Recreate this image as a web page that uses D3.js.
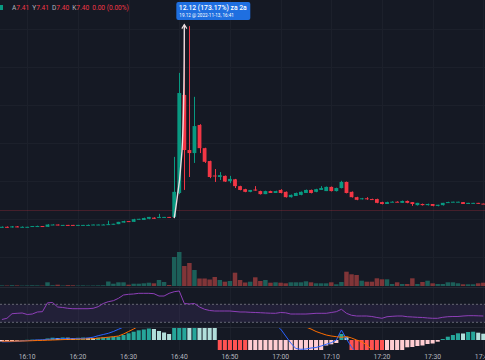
<!DOCTYPE html>
<html><head><meta charset="utf-8">
<script src="https://cdn.jsdelivr.net/npm/d3@7"></script>
<style>
html,body{margin:0;padding:0;background:#151924;overflow:hidden;}
svg{display:block;}
text{font-family:Roboto,"DejaVu Sans",sans-serif;}
</style></head><body>
<svg id="c" width="485" height="360"></svg>
<script>
// ---------- DATA ----------
const startTime = "2022-11-13T16:05";
const opens  = [6.79,6.80,6.79,6.81,6.79,6.79,6.80,6.81,6.82,6.80, 6.85,6.86,6.84,6.85,6.85,6.84,6.84,6.84,6.85,6.85, 6.85,6.85,6.87,6.87,6.91,6.95,6.93,7.00,6.98,7.01, 7.04,7.03,7.05,7.06,7.06,7.69,10.27,8.82,8.74,9.48, 8.87,8.53,8.15,8.11,8.14,8.00,8.05,7.87,7.79,7.72, 7.78,7.74,7.66,7.74,7.69,7.77,7.72,7.58,7.61,7.64, 7.69,7.77,7.72,7.77,7.74,7.85,7.74,7.82,7.98,7.72, 7.58,7.53,7.55,7.53,7.53,7.45,7.40,7.45,7.46,7.43, 7.48,7.45,7.37,7.40,7.37,7.40,7.35,7.37,7.43,7.45, 7.45,7.45,7.40,7.42,7.43,7.41];
const highs  = [6.81,6.81,6.82,6.82,6.81,6.80,6.82,6.83,6.82,6.87, 6.87,6.86,6.85,6.85,6.85,6.85,6.85,6.86,6.86,6.86, 6.87,6.96,6.88,6.93,6.96,6.95,7.01,7.01,7.04,7.06, 7.05,7.14,7.06,7.06,8.64,10.85,12.12,12.08,10.22,9.50, 8.88,8.54,8.32,8.24,8.15,8.14,8.06,7.88,7.80,7.77, 7.87,7.75,7.75,7.75,7.75,7.79,7.73,7.65,7.70,7.73, 7.78,7.78,7.80,7.87,7.86,7.86,7.83,8.01,7.99,7.73, 7.59,7.56,7.58,7.54,7.54,7.46,7.46,7.47,7.47,7.49, 7.49,7.45,7.43,7.41,7.41,7.40,7.38,7.43,7.46,7.46, 7.46,7.45,7.43,7.43,7.43,7.41];
const lows   = [6.78,6.78,6.78,6.79,6.79,6.79,6.80,6.81,6.80,6.80, 6.85,6.84,6.84,6.84,6.84,6.84,6.84,6.84,6.85,6.85, 6.85,6.85,6.86,6.87,6.91,6.93,6.93,6.99,6.98,7.00, 7.01,7.03,7.05,7.04,7.03,7.66,7.77,8.11,8.48,8.74, 8.48,8.08,7.98,8.03,7.98,7.95,7.82,7.76,7.71,7.71, 7.75,7.65,7.66,7.69,7.69,7.68,7.57,7.57,7.61,7.63, 7.69,7.68,7.71,7.77,7.74,7.73,7.73,7.81,7.68,7.57, 7.50,7.52,7.51,7.51,7.42,7.39,7.40,7.45,7.45,7.43, 7.42,7.35,7.36,7.36,7.36,7.34,7.34,7.36,7.43,7.45, 7.45,7.40,7.40,7.42,7.41,7.40];
const closes = [6.80,6.79,6.81,6.79,6.80,6.80,6.82,6.82,6.81,6.86, 6.86,6.84,6.85,6.84,6.84,6.85,6.85,6.85,6.86,6.86, 6.86,6.87,6.88,6.93,6.95,6.94,7.00,7.01,7.03,7.06, 7.01,7.06,7.06,7.05,7.72,10.32,8.82,8.74,9.45,8.87, 8.51,8.11,8.13,8.16,7.99,8.06,7.87,7.77,7.72,7.77, 7.76,7.66,7.74,7.69,7.74,7.69,7.58,7.64,7.69,7.72, 7.77,7.69,7.79,7.82,7.85,7.74,7.82,7.98,7.69,7.58, 7.51,7.55,7.53,7.52,7.43,7.40,7.45,7.46,7.45,7.48, 7.43,7.40,7.43,7.37,7.40,7.35,7.38,7.43,7.45,7.46, 7.46,7.40,7.43,7.43,7.42,7.40];
const volumes = [600,500,800,600,400,500,700,600,400,3700, 800,1300,500,900,700,500,600,400,500,600, 700,4500,2300,3700,3700,1300,2300,2300,2700,3300, 2700,6000,4000,1000,29000,34000,20000,23000,16000,7500, 7500,6500,9000,6000,4300,5000,13300,6000,3500,4300, 8700,5000,6000,3300,3700,3300,2700,3700,3700,3700, 4700,3700,2700,2700,2700,3700,1700,4000,14300,11700, 11000,5300,4300,4300,7700,6700,6700,2000,3700,2000, 2000,7700,2000,4000,5300,2700,2000,2000,3700,3700, 2700,1700,1700,1700,2700,3300];
const rsiValues = [36.2,38.9,49.1,50,50.7,47.3,48.4,52.9,53.6,73.3, 74,64,62.9,61.1,60.2,60.2,60.2,60.2,61.1,64.7, 71.8,75.8,78,83.3,90.7,92.2,92.9,94.4,94.4,94.4, 93.6,88.4,88.4,94.4,98,99.6,71.8,70.7,71.8,64, 58.9,56.2,55.1,55.1,55.1,55.1,54,52.9,52.9,52.2, 51.8,51.3,50.7,50.2,50,51.8,51.1,48.4,48.4,48.4, 48.4,49.1,50,50,50,51.8,53.6,58.9,50,45.6, 44,44,44,42.9,40.7,38.9,42.4,43.3,44,44, 42.4,41.8,41.1,40.7,39.6,38.9,38.9,41.1,42.4,42.9, 42.9,44,44.7,44.7,44.4,44];
const histValues = [-1.5,-1.2,-1.0,-0.7,-0.4,0.2,0.3,0.2,0.4,1.5, 2.3,2.0,2.5,2.3,2.0,2.2,2.4,2.1,2.0,2.3, 2.6,2.8,3.2,3.5,5,6.7,8.3,9.7,10.5,11.5, 11,9,7.5,6,20,40,45,43,44,38, 30,22,13,-12,-18,-22,-26,-28,-30,-28, -27,-26,-25,-24,-23,-22,-21,-20,-19,-18, -17,-16,-15,-13,-5.5,-4.3,-3,6,2.7,-10, -14,-17,-19,-20,-21,-22,-19,-16,-13,-10, -7.3,-7,-6,-5.5,-4,-3.5,-1.7,1,3.3,5, 6.7,6.5,8,8.3,7.3,6.3];
const macdValues = [-1.8,-1.8,-1.6,-1.4,-1.0,-0.6,-0.3,0,0.2,0.6, 1.0,1.2,1.3,1.3,1.4,1.5,1.6,2.0,2.8,4.3, 5.5,6.7,8.5,10.7,13,16,19,22,25,27, 28,28,28,29,40,70,85,92,98,98, 95,90,85,78,70,63,55,48,42,36, 31,26,22,18,15,11,4,-3,-8.5,-9.3, -9,-8,-7.5,-6,-4.3,-2.7,0,10,1,-7, -13,-16,-19,-21,-23,-25,-25,-25,-24,-23, -22,-21,-20,-19,-18,-17,-16,-15,-14,-13.5, -13,-12.5,-12,-11.8,-11.5,-11.3];
const signalValues = [-1.2,-1.2,-1.2,-1.1,-1.0,-0.9,-0.7,-0.5,-0.4,-0.2, 0,0.2,0.4,0.6,0.7,0.8,0.9,1.0,1.3,1.8, 2.3,2.8,3.3,4,6,8.5,11,14,17,20, 22,24,25,26,28,34,44,52,58,63, 66,69,70,70,69,67,65,62,58,55, 51,47,43,39,35,31,27,23,19,16.5, 13,11,8.5,6.7,5,4,3.3,2.7,3.5,2, 0,-1.7,-5,-9.5,-13,-16,-19,-21,-23,-25, -26,-27,-28,-28,-28,-28,-27,-26,-25,-24, -23,-22,-21,-20,-19,-18];
const timeTicks = ["16:10","16:20","16:30","16:40","16:50","17:00","17:10","17:20","17:30","17:40"];
const priceGrid = [6,7,8,9,10,11,12];
const rsiBands = [70,30];
const refPrice = 7.24;
const legendKeys = ["A","Y","D","K"];
const legendVals = ["7.41","7.41","7.40","7.40"];
const legendChange = "0.00 (0.00%)";
const measureFrom = {index:34, price:7.03};
const measureTo = {index:36, price:12.12};
const measureText = ["12.12 (173.17%) za 2a","19.12 @ 2022-11-13, 16:41"];

// ---------- LAYOUT ----------
const W=485,H=360;
const pane = {main:[0,287], rsi:[288,327], macd:[328,350]};
const C = {bg:"#151924", grid:"#1c202b", sep:"#262a35", up:"#089981", down:"#f23645",
  volUp:"#1c5f59", volDown:"#813538", text:"#b2b5be", rsi:"#8e3fb8", band:"rgba(126,87,194,0.13)",
  hUp:"#26a69a", hUpF:"#b2dfdb", hDn:"#ff5252", hDnR:"#ffcdd2", macd:"#2962ff", sig:"#ff6d00"};

const svg = d3.select("#c");
svg.append("rect").attr("width",W).attr("height",H).attr("fill",C.bg);
const parse = d3.timeParse("%Y-%m-%dT%H:%M");
const t0 = parse(startTime);
const times = closes.map((_,i)=>d3.timeMinute.offset(t0,i));
const x = d3.scaleTime().domain([times[0],times[times.length-1]]).range([1.9,483.3]);
const step = x(times[1])-x(times[0]);
const y = d3.scaleLinear().domain([5.216,12.768]).range([pane.main[1],pane.main[0]]);
const yVol = d3.scaleLinear().domain([0,d3.max(volumes)]).range([286,252]);
const yRsi = d3.scaleLinear().domain([30,70]).range([322.3,304.3]);
const yM = d3.scaleLinear().domain([-10,10]).range([350,330]);

const defs = svg.append("defs");
Object.entries(pane).forEach(([k,[a,b]])=>{
  defs.append("clipPath").attr("id","clip-"+k).append("rect").attr("x",0).attr("y",a).attr("width",W).attr("height",b-a);
});

// vertical grid
const tickDates = timeTicks.map(s=>parse("2022-11-13T"+s));
svg.append("g").selectAll("line").data(tickDates).join("line")
  .attr("x1",d=>Math.round(x(d))+0.5).attr("x2",d=>Math.round(x(d))+0.5).attr("y1",0).attr("y2",pane.macd[1])
  .attr("stroke",C.grid).attr("stroke-width",1);
// horizontal grid main
svg.append("g").selectAll("line").data(priceGrid).join("line")
  .attr("x1",0).attr("x2",W).attr("y1",d=>Math.round(y(d))+0.5).attr("y2",d=>Math.round(y(d))+0.5)
  .attr("stroke",C.grid);
// separators
svg.append("g").selectAll("line").data([pane.rsi[0]-0.5,pane.macd[0]-0.5]).join("line")
  .attr("x1",0).attr("x2",W).attr("y1",d=>d).attr("y2",d=>d).attr("stroke",C.sep);

// volume
const gMain = svg.append("g").attr("clip-path","url(#clip-main)");
gMain.append("g").selectAll("rect").data(volumes).join("rect")
  .attr("x",(d,i)=>x(times[i])-step/2+0.3).attr("width",step-0.6)
  .attr("y",d=>yVol(d)).attr("height",d=>286-yVol(d))
  .attr("fill",(d,i)=>closes[i]>=opens[i]?C.volUp:C.volDown);

// ref price line
gMain.append("line").attr("x1",0).attr("x2",W).attr("y1",Math.round(y(refPrice))+0.5).attr("y2",Math.round(y(refPrice))+0.5)
  .attr("stroke","#f23645").attr("stroke-opacity",0.22);

// candles
const bw = 3.8;
const gC = gMain.append("g");
gC.selectAll("line").data(closes).join("line")
  .attr("x1",(d,i)=>Math.round(x(times[i]))+0.5).attr("x2",(d,i)=>Math.round(x(times[i]))+0.5)
  .attr("y1",(d,i)=>y(highs[i])).attr("y2",(d,i)=>y(lows[i]))
  .attr("stroke",(d,i)=>d>=opens[i]?C.up:C.down).attr("stroke-width",1);
gC.selectAll("rect").data(closes).join("rect")
  .attr("x",(d,i)=>x(times[i])-bw/2).attr("width",bw)
  .attr("y",(d,i)=>y(Math.max(d,opens[i])))
  .attr("height",(d,i)=>Math.max(1,Math.abs(y(d)-y(opens[i]))))
  .attr("fill",(d,i)=>d>=opens[i]?C.up:C.down);

// measure annotation
const mx1 = x(times[measureFrom.index]), my1 = y(measureFrom.price);
const mx2 = x(times[measureTo.index]), my2 = y(measureTo.price);
gMain.append("path").attr("d",d3.line().curve(d3.curveBasis)([[mx1,my1],[mx2-1,(my1+my2)/2+40],[mx2,my2+20],[mx2,my2]]))
  .attr("fill","none").attr("stroke","#eadde0").attr("stroke-width",1.4);
gMain.append("path").attr("d",`M${mx2-2.5},${my2+4}L${mx2},${my2}L${mx2+2.5},${my2+4}`)
  .attr("fill","none").attr("stroke","#eadde0").attr("stroke-width",1.2);
const lab = svg.append("g");
const boxX = mx2-8, boxY = 2;
const lbox = lab.append("rect").attr("x",boxX).attr("y",boxY).attr("height",18).attr("rx",2).attr("fill","#1f6fe0");
const t1 = lab.append("text").attr("x",boxX+2.5).attr("y",boxY+8).attr("fill","#fff").attr("font-size",6.8).attr("font-weight",500).text(measureText[0]);
const t2 = lab.append("text").attr("x",boxX+3).attr("y",boxY+15).attr("fill","#fff").attr("font-size",4.6).text(measureText[1]);
lbox.attr("width",Math.max(t1.node().getComputedTextLength(),t2.node().getComputedTextLength())+6);

// RSI pane
const gR = svg.append("g").attr("clip-path","url(#clip-rsi)");
gR.append("rect").attr("x",0).attr("width",W).attr("y",yRsi(rsiBands[0])).attr("height",yRsi(rsiBands[1])-yRsi(rsiBands[0])).attr("fill",C.band);
gR.selectAll("line.b").data(rsiBands).join("line").attr("class","b")
  .attr("x1",0).attr("x2",W).attr("y1",d=>yRsi(d)).attr("y2",d=>yRsi(d))
  .attr("stroke","#787b86").attr("stroke-dasharray","2,2").attr("stroke-width",0.8);
gR.append("path").datum(rsiValues).attr("d",d3.line().x((d,i)=>x(times[i])).y(d=>yRsi(d)))
  .attr("fill","none").attr("stroke",C.rsi).attr("stroke-width",1);

// MACD pane
const gM = svg.append("g").attr("clip-path","url(#clip-macd)");
gM.selectAll("rect").data(histValues).join("rect")
  .attr("x",(d,i)=>x(times[i])-step/2+0.5).attr("width",step-1)
  .attr("y",d=>d>=0?yM(d):yM(0)).attr("height",d=>Math.abs(yM(d)-yM(0)))
  .attr("fill",(d,i)=>{const p=i>0?histValues[i-1]:d; return d>=0?(d>=p?C.hUp:C.hUpF):(d<p?C.hDn:C.hDnR);});
gM.append("path").datum(macdValues).attr("d",d3.line().x((d,i)=>x(times[i])).y(d=>yM(d)))
  .attr("fill","none").attr("stroke",C.macd).attr("stroke-width",1);
gM.append("path").datum(signalValues).attr("d",d3.line().x((d,i)=>x(times[i])).y(d=>yM(d)))
  .attr("fill","none").attr("stroke",C.sig).attr("stroke-width",1);

// time axis
svg.append("g").selectAll("text").data(tickDates).join("text")
  .attr("x",d=>x(d)).attr("y",358.5).attr("text-anchor","middle").attr("fill",C.text)
  .attr("font-size",6.8).text((d,i)=>timeTicks[i]);

// legend
svg.append("rect").attr("x",-1).attr("y",5).attr("width",4).attr("height",5).attr("fill",C.up);
const lg = svg.append("text").attr("x",12).attr("y",9.5).attr("font-size",6.6);
legendKeys.forEach((k,i)=>{
  lg.append("tspan").attr("fill",C.text).attr("dx",i?3:0).text(k);
  lg.append("tspan").attr("fill",C.down).text(legendVals[i]);
});
lg.append("tspan").attr("fill",C.down).attr("dx",3).text(legendChange);
</script>
</body></html>
